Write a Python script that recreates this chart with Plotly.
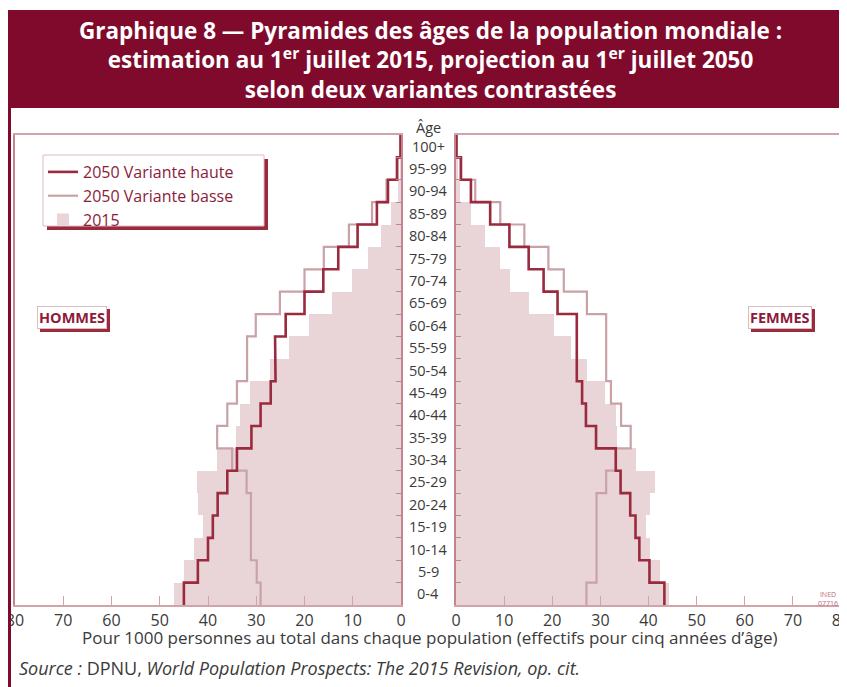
import plotly.graph_objects as go

# ---------------- data ----------------
age_groups = ["0-4", "5-9", "10-14", "15-19", "20-24", "25-29", "30-34", "35-39",
              "40-44", "45-49", "50-54", "55-59", "60-64", "65-69", "70-74",
              "75-79", "80-84", "85-89", "90-94", "95-99", "100+"]

# Pour 1000 personnes (effectifs par groupe de 5 ans)
hommes_2015 = [47.1, 45.0, 42.8, 41.1, 42.1, 42.2, 38.1, 34.3, 33.4, 31.2, 27.1,
               23.2, 19.1, 14.3, 10.1, 6.9, 4.1, 2.1, 0.6, 0.2, 0.0]
hommes_haute = [45.0, 42.1, 40.0, 39.0, 38.0, 36.0, 34.0, 31.0, 29.1, 27.0, 26.0,
                26.1, 23.9, 20.0, 16.1, 13.0, 9.0, 5.0, 2.7, 0.8, 0.1]
hommes_basse = [29.1, 29.9, 31.1, 31.1, 31.1, 32.0, 35.0, 38.1, 36.0, 34.0, 31.9,
                31.9, 30.1, 25.1, 20.0, 16.0, 10.8, 6.0, 3.0, 0.9, 0.1]

femmes_2015 = [44.2, 42.4, 40.4, 39.4, 40.4, 41.4, 37.3, 33.5, 33.3, 30.9, 27.2,
               23.8, 20.3, 15.2, 11.3, 9.2, 6.0, 3.1, 0.8, 0.3, 0.0]
femmes_haute = [43.3, 40.2, 38.1, 37.3, 36.2, 34.2, 33.2, 29.1, 27.0, 26.2, 25.1,
                25.1, 25.1, 21.1, 18.2, 15.1, 11.1, 7.1, 3.1, 1.0, 0.1]
femmes_basse = [27.1, 29.2, 29.2, 29.2, 29.2, 31.2, 33.2, 36.3, 34.3, 32.2, 31.2,
                31.2, 31.2, 27.2, 22.4, 19.2, 14.2, 9.2, 4.0, 1.1, 0.1]

x_ticks = [0, 10, 20, 30, 40, 50, 60, 70, 80]

# ---------------- styles ----------------
W, H = 847, 687
OFF = 8  # page body margin
DARK = "#800a2b"
TXT_RED = "#8c1b3a"
C_HAUTE = "#9a2a3d"
C_BASSE = "#c9a2a8"
C_2015 = "#e9d5d8"
FRAME = "#d3a3aa"
AXIS = "#c4848f"
GREY = "#3a3a3a"
FONT = "'Open Sans', Roboto, sans-serif"


def px(x):
    return (x - OFF) / W


def py(y):
    return 1 - (y - OFF) / H


def step(vals):
    xs, ys = [], []
    for i, v in enumerate(vals):
        xs += [v, v]
        ys += [i - 0.5, i + 0.5]
    return xs, ys


idx = list(range(len(age_groups)))

fig = go.Figure()

for v15, vh, vb, xa, ya, show in [
    (hommes_2015, hommes_haute, hommes_basse, "x", "y", True),
    (femmes_2015, femmes_haute, femmes_basse, "x2", "y2", False),
]:
    fig.add_trace(go.Bar(x=v15, y=idx, orientation="h", width=1,
                         marker=dict(color=C_2015, line=dict(width=0)),
                         name="2015", legendrank=3, showlegend=show,
                         xaxis=xa, yaxis=ya))
    bx, by = step(vb)
    fig.add_trace(go.Scatter(x=bx, y=by, mode="lines",
                             line=dict(color=C_BASSE, width=2.2),
                             name="2050 Variante basse", legendrank=2,
                             showlegend=show, xaxis=xa, yaxis=ya))
    hx, hy = step(vh)
    fig.add_trace(go.Scatter(x=hx, y=hy, mode="lines",
                             line=dict(color=C_HAUTE, width=2.6),
                             name="2050 Variante haute", legendrank=1,
                             showlegend=show, xaxis=xa, yaxis=ya))

ydom = [py(605), py(135)]
yrange = [-0.5, 20.5]
bounds = [i - 0.5 for i in range(22)]
major = [i + 0.5 for i in range(1, 20, 2)]

xcommon = dict(tickvals=x_ticks, ticks="inside", ticklen=9, tickcolor=FRAME,
               tickwidth=1, showline=True, linecolor=FRAME, linewidth=1.5,
               mirror=True, showgrid=False, zeroline=False, automargin=False,
               tickfont=dict(family=FONT, size=16, color=GREY),
               ticklabelstandoff=0, ticklabeloverflow="allow", fixedrange=True)
ycommon = dict(range=yrange, domain=ydom, showgrid=False, zeroline=False,
               showticklabels=False, fixedrange=True, automargin=False)

fig.update_layout(
    width=W, height=H,
    margin=dict(l=0, r=0, t=0, b=0, autoexpand=False),
    paper_bgcolor="white", plot_bgcolor="white",
    bargap=0, barmode="overlay",
    font=dict(family=FONT, color=GREY),
    xaxis=dict(domain=[px(15), px(401)], range=[80, 0], anchor="y", **xcommon),
    xaxis2=dict(domain=[px(456), px(841)], range=[0, 80], anchor="y2", **xcommon),
    yaxis=dict(anchor="x", side="right", tickvals=bounds, ticks="inside",
               ticklen=5, tickcolor=AXIS, showline=True, linecolor=AXIS,
               linewidth=1.5, mirror=True, **ycommon),
    yaxis3=dict(anchor="x", overlaying="y", side="left", tickvals=major,
                ticks="inside", ticklen=10, tickcolor=FRAME, showline=False,
                **ycommon),
    yaxis2=dict(anchor="x2", side="left", tickvals=bounds, ticks="inside",
                ticklen=5, tickcolor=AXIS, showline=True, linecolor=AXIS,
                linewidth=1.5, mirror=True, **ycommon),
    yaxis4=dict(anchor="x2", overlaying="y2", side="right", tickvals=major,
                ticks="inside", ticklen=10, tickcolor=FRAME, showline=False,
                **ycommon),
    legend=dict(x=px(43), y=py(155), xanchor="left", yanchor="top",
                bgcolor="rgba(0,0,0,0)", borderwidth=0,
                font=dict(family=FONT, size=16, color=TXT_RED),
                tracegroupgap=0, itemwidth=30),
    showlegend=True,
)

shapes = [
    # title banner
    dict(type="rect", xref="paper", yref="paper", x0=-0.01, x1=1.01,
         y0=py(108), y1=py(10), fillcolor=DARK, line=dict(width=0), layer="above"),
    # left border
    dict(type="line", xref="paper", yref="paper", x0=px(9.5), x1=px(9.5),
         y0=-0.02, y1=py(108), line=dict(color=DARK, width=3), layer="above"),
    # legend shadow + box
    dict(type="rect", xref="paper", yref="paper", x0=px(47), x1=px(268),
         y0=py(230), y1=py(159), fillcolor=C_HAUTE, line=dict(width=0), layer="above"),
    dict(type="rect", xref="paper", yref="paper", x0=px(43), x1=px(264),
         y0=py(226), y1=py(155), fillcolor="white",
         line=dict(color="#dcbcc1", width=1), layer="above"),
]
fig.update_layout(shapes=shapes)


def A(x, y, text, size, color=GREY, xanchor="center", yanchor="middle", **kw):
    d = dict(xref="paper", yref="paper", x=px(x), y=py(y), text=text,
             showarrow=False, xanchor=xanchor, yanchor=yanchor,
             font=dict(family=FONT, size=size, color=color))
    d.update(kw)
    return d


ann = []
ann.append(A(430, 60,
             "Graphique 8 — Pyramides des âges de la population mondiale :<br>"
             "estimation au 1<sup>er</sup> juillet 2015, projection au 1<sup>er</sup> juillet 2050<br>"
             "selon deux variantes contrastées",
             22.5, color="white", align="center"))
ann[-1]["font"]["weight"] = "bold"
ann.append(A(428, 127, "Âge", 14.5))
for i, lab in enumerate(age_groups):
    ann.append(dict(xref="paper", yref="y", x=px(428), y=i, text=lab,
                    showarrow=False, xanchor="center", yanchor="middle",
                    font=dict(family=FONT, size=14.5, color=GREY)))
for lab, cx in [("HOMMES", 72), ("FEMMES", 780)]:
    ann.append(A(cx, 317, f"<b>{lab}</b>", 14.5, color=C_HAUTE,
                 xshift=3, yshift=-3, bgcolor=C_HAUTE, borderpad=1,
                 borderwidth=1, bordercolor=C_HAUTE))
    ann.append(A(cx, 317, f"<b>{lab}</b>", 14.5, color=TXT_RED,
                 bgcolor="white", borderpad=1, borderwidth=1, bordercolor="#dcbcc1"))
ann.append(A(429, 637,
             "Pour 1000 personnes au total dans chaque population (effectifs pour cinq années d’âge)",
             17))
ann.append(A(17, 668,
             "<i>Source :</i> DPNU, <i>World Population Prospects: The 2015 Revision, op. cit.</i>",
             18, xanchor="left"))
ann.append(A(828, 599, "INED<br>07716", 7, color="#c0687a", align="center"))
fig.update_layout(annotations=ann)

fig.write_html("out.html")
